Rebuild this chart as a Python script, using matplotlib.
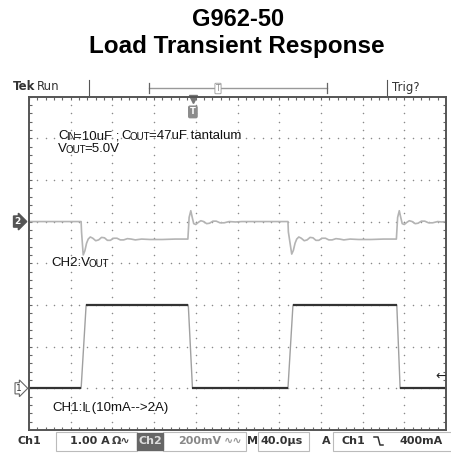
import numpy as np
import matplotlib
matplotlib.use("Agg")
import matplotlib.pyplot as plt
from matplotlib.lines import Line2D
from matplotlib.patches import Rectangle

# --- waveform readings, in divisions (x: 0..10, y: -4..4) ---
ch1_t = [0.0, 1.25, 1.37, 3.82, 3.92, 6.21, 6.33, 8.82, 8.90, 10.0]
ch1_v = [-3.0, -3.0, -1.0, -1.0, -3.0, -3.0, -1.0, -1.0, -3.0, -3.0]

ch2_t = [0.00, 0.60, 1.25, 1.26, 1.30, 1.34, 1.38, 1.42, 1.47, 1.53, 1.60, 1.67,
         1.74, 1.81, 1.88, 1.95, 2.03, 2.11, 2.19, 2.27, 2.36, 2.45, 2.55, 2.70,
         2.90, 3.20, 3.50, 3.81, 3.84, 3.88, 3.91, 3.95, 4.00, 4.06, 4.12, 4.19,
         4.26, 4.33, 4.41, 4.49, 4.58, 4.68, 4.80, 4.95, 5.10, 5.40, 5.80, 6.21,
         6.22, 6.30, 6.34, 6.38, 6.42, 6.47, 6.53, 6.60, 6.67, 6.74, 6.81, 6.88,
         6.95, 7.03, 7.11, 7.19, 7.27, 7.36, 7.45, 7.55, 7.70, 7.90, 8.20, 8.50,
         8.81, 8.84, 8.88, 8.91, 8.95, 9.00, 9.06, 9.12, 9.19, 9.26, 9.33, 9.41,
         9.49, 9.58, 9.68, 9.80, 9.90, 10.0]
ch2_v = [1.00, 1.00, 1.00, 0.75, 0.20, 0.30, 0.48, 0.58, 0.63, 0.60, 0.54, 0.56,
         0.62, 0.61, 0.55, 0.55, 0.60, 0.60, 0.56, 0.56, 0.59, 0.58, 0.56, 0.58,
         0.57, 0.57, 0.58, 0.58, 1.10, 1.26, 1.12, 0.95, 0.93, 0.98, 1.02, 1.00,
         0.95, 0.96, 1.01, 1.01, 0.97, 0.97, 1.00, 0.99, 1.00, 1.00, 1.00, 1.00,
         0.75, 0.22, 0.31, 0.48, 0.58, 0.63, 0.60, 0.54, 0.56, 0.62, 0.61, 0.55,
         0.55, 0.60, 0.60, 0.56, 0.56, 0.59, 0.58, 0.56, 0.58, 0.57, 0.57, 0.58,
         0.58, 1.10, 1.26, 1.12, 0.95, 0.93, 0.98, 1.02, 1.00, 0.95, 0.96, 1.01,
         1.01, 0.97, 0.97, 1.00, 0.99, 1.00]

W, H = 452, 457


def fx(px):
    return px / W


def fy(py):
    return 1 - py / H


fig = plt.figure(figsize=(W / 100, H / 100), dpi=100)
fig.patch.set_facecolor("white")

# title
fig.text(fx(238), fy(19), "G962-50", ha="center", va="center",
         family="Liberation Sans", weight="bold", size=17)
fig.text(fx(237), fy(46), "Load Transient Response", ha="center", va="center",
         family="Liberation Sans", weight="bold", size=17.5)

# scope screen
ax = fig.add_axes([fx(29), fy(430), (446 - 29) / W, (430 - 96.5) / H])
ax.set_xlim(0, 10)
ax.set_ylim(-4, 4)
ax.set_xticks([])
ax.set_yticks([])
for s in ax.spines.values():
    s.set_color("#555555")
    s.set_linewidth(1.4)

# graticule dots
minor = np.round(np.arange(0, 10.01, 0.2), 2)
minor_y = np.round(np.arange(-4, 4.01, 0.2), 2)
for gx in range(1, 10):
    ax.plot([gx] * len(minor_y), minor_y, ls="none", marker="o", ms=1.1,
            color="#8a8a8a", mec="none")
for gy in range(-3, 4):
    ax.plot(minor, [gy] * len(minor), ls="none", marker="o", ms=1.1,
            color="#8a8a8a", mec="none")

# border ticks
tl = 0.08
ax.vlines(minor, 4 - tl, 4, color="#666666", lw=0.8)
ax.vlines(minor, -4, -4 + tl, color="#666666", lw=0.8)
ax.hlines(minor_y, 0, tl, color="#666666", lw=0.8)
ax.hlines(minor_y, 10 - tl, 10, color="#666666", lw=0.8)

# traces
ax.plot(ch2_t, ch2_v, color="#b4b4b4", lw=1.2)
ax.plot(ch1_t, ch1_v, color="#a0a0a0", lw=1.0)
for i in range(len(ch1_t) - 1):
    if ch1_v[i] == ch1_v[i + 1]:
        ax.plot(ch1_t[i:i + 2], ch1_v[i:i + 2], color="#333333", lw=1.6,
                solid_capstyle="butt")

# trigger position / level markers
ax.plot([3.93], [3.93], marker="v", ms=6, color="#777777", clip_on=False)
ax.text(3.93, 3.63, "T", ha="center", va="center", size=6, color="white",
        weight="bold", bbox=dict(boxstyle="round,pad=0.15", fc="#8c8c8c", ec="#8c8c8c"))
ax.text(10.0, -2.72, "\u2190", ha="right", va="center", size=9, color="#222222")

# channel ground markers
ax.text(-0.27, 1.0, "2", ha="center", va="center", size=6.5, color="white",
        weight="bold", clip_on=False,
        bbox=dict(boxstyle="rarrow,pad=0.12", fc="#555555", ec="#555555"))
ax.text(-0.24, -3.0, "1", ha="center", va="center", size=6.5, color="#333333",
        clip_on=False,
        bbox=dict(boxstyle="rarrow,pad=0.12", fc="white", ec="#666666", lw=0.8))


def rich(x, y, parts):
    # chain text pieces left to right; small pieces are the small-caps bits
    prev = None
    for s, sz in parts:
        if prev is None:
            prev = ax.text(x, y, s, size=sz, va="center", ha="left",
                           family="Liberation Sans", color="#111111")
        else:
            prev = ax.annotate(s, xy=(1, 0), xycoords=prev, va="bottom",
                               ha="left", size=sz, family="Liberation Sans",
                               color="#111111", xytext=(-1.5, 0),
                               textcoords="offset pixels")


rich(0.70, 3.05, [("C", 9.5), ("IN", 7), ("=10uF ; ", 9.5), ("C", 9.5), ("OUT", 7),
                  ("=47uF tantalum", 9.5)])
rich(0.70, 2.73, [("V", 9.5), ("OUT", 7), ("=5.0V", 9.5)])
rich(0.53, 0.0, [("CH2:V", 9.5), ("OUT", 7)])
rich(0.55, -3.47, [("CH1:I", 9.5), ("L", 7), (" (10mA-->2A)", 9.5)])

# header bar
hdr = dict(va="center", family="DejaVu Sans", color="#333333")
fig.text(fx(13), fy(87), "Tek", weight="bold", size=8.5, **hdr)
fig.text(fx(37), fy(87), "Run", size=8.5, **hdr)
fig.text(fx(392), fy(87), "Trig?", size=8.5, **hdr)
for xs in (89, 387):
    fig.add_artist(Line2D([fx(xs), fx(xs)], [fy(80), fy(95)], color="#555555", lw=0.8))
fig.add_artist(Line2D([fx(149), fx(327)], [fy(88), fy(88)], color="#999999", lw=1.0))
fig.add_artist(Line2D([fx(149), fx(149)], [fy(83), fy(93)], color="#666666", lw=0.9))
fig.add_artist(Line2D([fx(327), fx(327)], [fy(83), fy(93)], color="#666666", lw=0.9))
fig.text(fx(218), fy(88.5), "T", ha="center", va="center", size=5.5, color="#888888",
         bbox=dict(boxstyle="round,pad=0.1", fc="white", ec="#999999", lw=0.6))

# status bar
sb = dict(va="center", family="DejaVu Sans", weight="bold", size=8)
ybar = fy(441)
fig.text(fx(18), ybar, "Ch1", color="#333333", **sb)
for x0, x1 in ((56, 137), (163, 246), (258, 309), (333, 452)):
    fig.add_artist(Rectangle((fx(x0), fy(451)), fx(x1) - fx(x0), fy(432) - fy(451),
                             fill=False, ec="#bbbbbb", lw=0.8))
fig.text(fx(70), ybar, "1.00 A", color="#333333", **sb)
fig.text(fx(112), ybar, "\u03a9\u223f", color="#444444", **sb)
fig.add_artist(Rectangle((fx(137), fy(450)), fx(163) - fx(137), fy(433) - fy(450),
                         fc="#666666", ec="#666666"))
fig.text(fx(150), ybar, "Ch2", ha="center", color="#dddddd", size=8, va="center",
         family="DejaVu Sans", weight="bold")
fig.text(fx(178), ybar, "200mV", color="#888888", **sb)
fig.text(fx(224), ybar, "\u223f\u223f", color="#999999", **sb)
fig.text(fx(247), ybar, "M", color="#333333", **sb)
fig.text(fx(261), ybar, "40.0\u00b5s", color="#333333", **sb)
fig.text(fx(322), ybar, "A", color="#333333", **sb)
fig.text(fx(342), ybar, "Ch1", color="#333333", **sb)
fig.add_artist(Line2D([fx(374), fx(378), fx(380), fx(383)],
                      [fy(437), fy(437), fy(445), fy(445)], color="#333333", lw=1.1))
fig.text(fx(400), ybar, "400mA", color="#333333", **sb)

fig.savefig("out.png", dpi=100, facecolor="white")
